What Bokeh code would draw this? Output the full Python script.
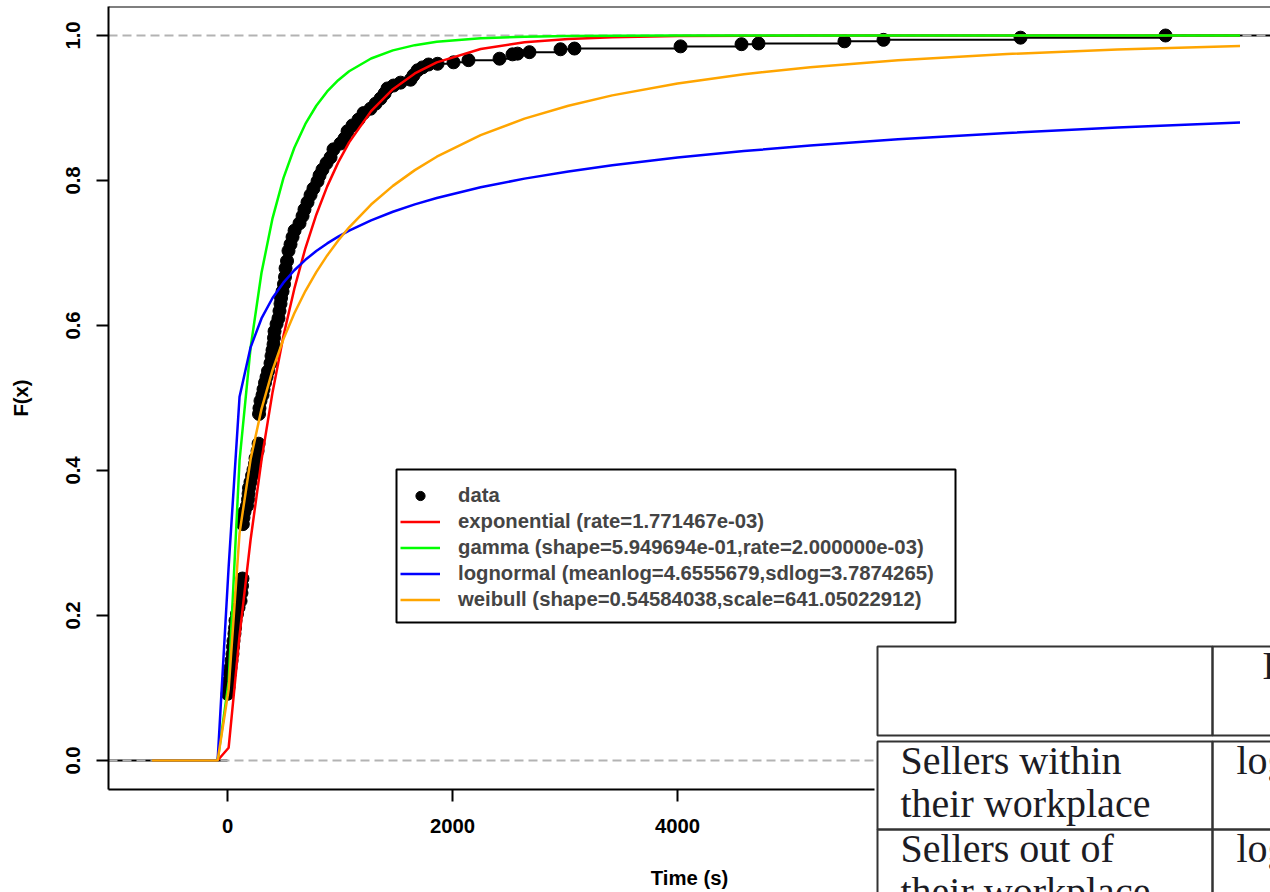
import numpy as np
from bokeh.plotting import figure
from bokeh.layouts import column
from bokeh.models import (Range1d, FixedTicker, NumeralTickFormatter, Span, BoxAnnotation,
                          Legend, LegendItem)
from bokeh.core.properties import value
from bokeh.embed import file_html
from bokeh.resources import INLINE

# ---------------- data ----------------
# empirical CDF points (Time in s, F(x))
data_x = [0, 9, 13, 22, 27, 36, 44, 49, 53, 62, 67, 71, 84, 98, 116, 124, 129, 133,
          136, 142, 151, 173, 182, 187, 191, 204, 218, 231, 244, 249, 267, 276,
          280, 284, 293, 311, 320, 333, 347, 360, 382, 391, 400, 409, 413, 418, 436, 453, 462, 471,
          476, 489, 502, 511, 516, 529, 542, 560, 578, 596, 640, 667, 684, 711, 738, 764, 800,
          818, 844, 880, 916, 942, 1004, 1040, 1067, 1111, 1164, 1209, 1271, 1316, 1360, 1396,
          1422, 1476, 1538, 1627, 1653, 1689, 1733, 1787,
          1867, 2009, 2142, 2418, 2533, 2578, 2684, 2960, 3084, 4027, 4569, 4720, 5484, 5831,
          7049, 8338]
data_F = [0.092, 0.101, 0.110, 0.120, 0.128, 0.138, 0.147, 0.157, 0.165, 0.175, 0.183, 0.193,
          0.202, 0.211, 0.220, 0.231, 0.241, 0.251,
          0.326, 0.335, 0.343, 0.351, 0.360, 0.368, 0.376, 0.384, 0.393, 0.401, 0.409, 0.417,
          0.427, 0.437,
          0.478, 0.486, 0.496, 0.504, 0.512, 0.521, 0.529, 0.537, 0.548, 0.558, 0.566, 0.574,
          0.583, 0.592, 0.602, 0.610, 0.620, 0.630,
          0.638, 0.647, 0.657, 0.667, 0.679, 0.689, 0.703, 0.712, 0.722, 0.731, 0.741, 0.751,
          0.760, 0.770, 0.780, 0.789, 0.799, 0.807, 0.815, 0.824, 0.832, 0.843, 0.851, 0.858,
          0.868, 0.876, 0.884, 0.893, 0.899, 0.906, 0.913, 0.920, 0.927, 0.931, 0.935, 0.939,
          0.945, 0.952, 0.956, 0.960,
          0.961, 0.963, 0.966, 0.968, 0.974, 0.975, 0.977, 0.981, 0.982, 0.985, 0.988, 0.989,
          0.992, 0.994, 0.997, 1.000]

# fitted CDF curves, sampled along Time
fit_x = [-672, -88, 10, 107, 205, 302, 400, 497, 594, 692, 789, 886, 984, 1081, 1276, 1470,
         1665, 1860, 2250, 2640, 3030, 3420, 4000, 4590, 5180, 5960, 6930, 7910, 9000]
exp_F = [0, 0, 0.0176, 0.1726, 0.3045, 0.4143, 0.5077, 0.5854, 0.6508, 0.7065, 0.7528, 0.7919,
         0.8250, 0.8526, 0.8957, 0.9260, 0.9476, 0.9629, 0.9814, 0.9907, 0.9953, 0.9977,
         0.9992, 0.9997, 0.9999, 1.0, 1.0, 1.0, 1.0]
gamma_F = [0, 0, 0.1084, 0.4139, 0.5695, 0.6728, 0.7478, 0.8032, 0.8452, 0.8780, 0.9031, 0.9228,
           0.9384, 0.9507, 0.9683, 0.9795, 0.9867, 0.9913, 0.9963, 0.9984, 0.9993, 0.9997,
           0.9999, 1.0, 1.0, 1.0, 1.0, 1.0, 1.0]
lnorm_F = [0, 0, 0.2672, 0.5018, 0.5699, 0.6097, 0.6379, 0.6591, 0.6762, 0.6906, 0.7027, 0.7132,
           0.7225, 0.7308, 0.7451, 0.7569, 0.7671, 0.7759, 0.7907, 0.8026, 0.8125, 0.8210,
           0.8316, 0.8406, 0.8482, 0.8568, 0.8656, 0.8730, 0.8800]
weib_F = [0, 0, 0.0981, 0.3137, 0.4154, 0.4847, 0.5384, 0.5812, 0.6169, 0.6475, 0.6737, 0.6967,
          0.7173, 0.7355, 0.7668, 0.7926, 0.8143, 0.8328, 0.8625, 0.8853, 0.9031, 0.9174,
          0.9339, 0.9466, 0.9562, 0.9659, 0.9745, 0.9806, 0.9854]

legend_labels = ["data",
                 "exponential (rate=1.771467e-03)",
                 "gamma (shape=5.949694e-01,rate=2.000000e-03)",
                 "lognormal (meanlog=4.6555679,sdlog=3.7874265)",
                 "weibull (shape=0.54584038,scale=641.05022912)"]
x_ticks = [0, 2000, 4000, 6000, 8000]
y_ticks = [0.0, 0.2, 0.4, 0.6, 0.8, 1.0]

# overlaid table (part of a document page pasted over the chart corner)
table_text = ["Distribution",
              "Sellers within", "their workplace", "lognormal",
              "Sellers out of", "their workplace", "lognormal"]

# ---------------- main figure ----------------
FONT = "Liberation Sans"
FS = "20.3px"

p = figure(width=1270, height=892, output_backend="svg", toolbar_location=None,
           x_range=Range1d(-1058, 9271), y_range=Range1d(-0.04, 1.04),
           min_border_left=108, min_border_right=0, min_border_top=6, min_border_bottom=103)
p.outline_line_color = None
p.xgrid.visible = False
p.ygrid.visible = False
p.background_fill_color = "white"
p.border_fill_color = "white"

for ax in (p.xaxis[0], p.yaxis[0]):
    ax.axis_line_width = 2
    ax.axis_line_color = "black"
    ax.major_tick_line_width = 2
    ax.major_tick_out = 12
    ax.major_tick_in = 0
    ax.minor_tick_line_color = None
    ax.major_label_text_font = FONT
    ax.major_label_text_font_size = FS
    ax.major_label_text_font_style = "bold"
    ax.major_label_text_color = "black"
    ax.axis_label_text_font = FONT
    ax.axis_label_text_font_size = FS
    ax.axis_label_text_font_style = "bold"
    ax.axis_label_text_color = "black"

p.xaxis.ticker = FixedTicker(ticks=x_ticks)
p.yaxis.ticker = FixedTicker(ticks=y_ticks)
p.yaxis.formatter = NumeralTickFormatter(format="0.0")
p.yaxis.major_label_orientation = "vertical"
p.xaxis.axis_label = "Time (s)"
p.yaxis.axis_label = "F(x)"
p.xaxis.major_label_standoff = 17
p.xaxis.axis_label_standoff = 31
p.yaxis.major_label_standoff = 17
p.yaxis.axis_label_standoff = 31

# top border of the R box
p.add_layout(Span(location=1.04, dimension="width", line_color="black", line_width=2))

# ECDF: horizontal steps + points
seg_x0 = [-1e5] + data_x
seg_x1 = data_x + [1e5]
seg_y = [0.0] + data_F
p.segment(x0=seg_x0, y0=seg_y, x1=seg_x1, y1=seg_y, line_color="black", line_width=2)
r_data = p.scatter(data_x, data_F, size=13, fill_color="black", line_color="black")

# dashed reference lines at 0 and 1
p.hspan(y=[0, 1], line_color="#B3B3B3", line_width=2, line_dash="9 5")

# fitted curves
r_exp = p.line(fit_x, exp_F, line_color="#FF0000", line_width=2.5)
r_gam = p.line(fit_x, gamma_F, line_color="#00FF00", line_width=2.5)
r_ln = p.line(fit_x, lnorm_F, line_color="#0000FF", line_width=2.5)
r_wb = p.line(fit_x, weib_F, line_color="#FFA500", line_width=2.5)

# legend frame then legend
p.add_layout(BoxAnnotation(left=288, right=847, top=320, bottom=167,
                           left_units="screen", right_units="screen",
                           top_units="screen", bottom_units="screen",
                           fill_color="white", fill_alpha=1.0,
                           line_color="black", line_width=2, line_alpha=1.0))
legend = Legend(items=[LegendItem(label=legend_labels[0], renderers=[r_data]),
                       LegendItem(label=legend_labels[1], renderers=[r_exp]),
                       LegendItem(label=legend_labels[2], renderers=[r_gam]),
                       LegendItem(label=legend_labels[3], renderers=[r_ln]),
                       LegendItem(label=legend_labels[4], renderers=[r_wb])],
                location=(292, 178), orientation="vertical", padding=5, spacing=3, margin=0,
                glyph_width=40, glyph_height=23, label_height=23, label_standoff=18,
                label_text_font=FONT, label_text_font_size=FS, label_text_font_style="bold",
                border_line_color=None, background_fill_alpha=0.0)
p.add_layout(legend, "center")

# ---------------- overlaid table (its own small figure, page pixel coords) ----------------
# its left border equals the main figure's so the column keeps both frames aligned
t = figure(width=504, height=254, output_backend="svg", toolbar_location=None,
           x_range=Range1d(874, 1270), y_range=Range1d(892, 638),
           x_axis_type=None, y_axis_type=None,
           min_border_left=108, min_border_right=0, min_border_top=0, min_border_bottom=0)
t.outline_line_color = None
t.xgrid.visible = False
t.ygrid.visible = False
t.background_fill_color = "white"
t.border_fill_alpha = 0.0
t.margin = (-254, 0, 0, 766)

cell_left = [877, 1212, 877, 1212, 877, 1212]
cell_right = [1212, 1320, 1212, 1320, 1212, 1320]
cell_top = [646, 646, 741, 741, 829, 829]
cell_bottom = [735, 735, 829, 829, 950, 950]
t.quad(left=cell_left, right=cell_right, top=cell_top, bottom=cell_bottom,
       fill_alpha=0.0, line_color="#333333", line_width=2)
t.text(x=[1262, 900, 900, 1236, 900, 900, 1236],
       y=[665, 760, 803, 760, 848, 891, 848],
       text=table_text, text_font=value("Liberation Serif"), text_font_size="40px",
       text_color="#1c1c24", text_baseline="alphabetic", text_align="left")

layout = column(p, t, spacing=0)
open("out.html", "w").write(file_html(layout, INLINE))
